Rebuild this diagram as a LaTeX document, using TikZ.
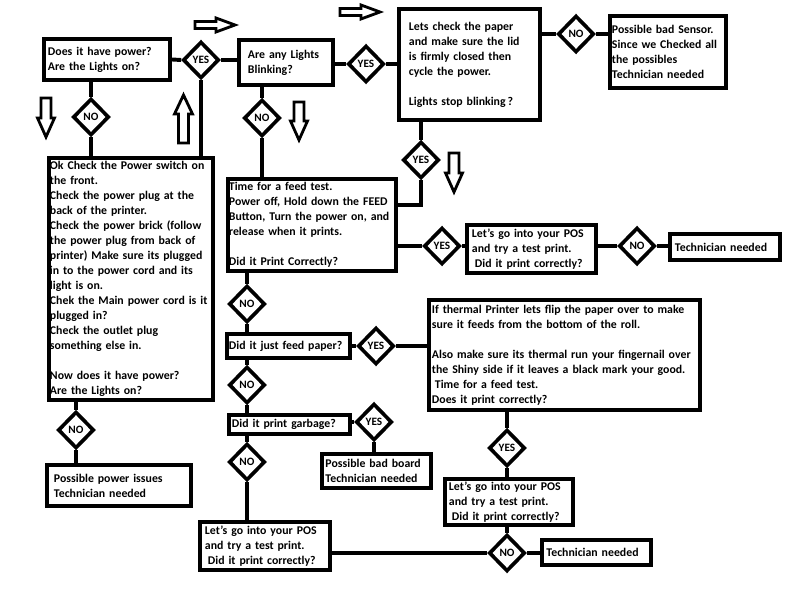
\documentclass[tikz,border=0pt]{standalone}
\usepackage{fontspec}
\setmainfont{Carlito}
\usetikzlibrary{shapes.geometric}

\begin{document}
\begin{tikzpicture}[x=0.025cm, y=-0.025cm,
  box/.style={draw, line width=2.8pt, rectangle, align=left, inner sep=0pt, font=\bfseries\fontsize{8.4}{10.67}\selectfont},
  choice/.style={draw, line width=2.6pt, diamond, minimum width=0.9cm, minimum height=0.92cm, inner sep=0pt, font=\bfseries\fontsize{8}{9}\selectfont},
  link/.style={line width=2.8pt},
  hollow/.style={line width=2pt, fill=white, line join=miter},
  pics/fatarrow/.style args={#1/#2/#3}{code={
    \draw[hollow] (0,0) -- (-19,-#2) -- (-19,-#3) -- (-#1,-#3) -- (-#1,#3) -- (-19,#3) -- (-19,#2) -- cycle;}}
]
\fill[white] (0,0) rectangle (800,603);
\useasboundingbox (0,0) rectangle (800,603);

% top row
\node[box, minimum width=3.15cm, minimum height=1.025cm, text width=2.95cm] (power) at (107,59.5) {Does it have power?\\Are the Lights on?};
\node[choice] (yesPower) at (201,60) {YES};
\node[box, minimum width=2.35cm, minimum height=1.125cm, text width=1.9cm] (blink) at (286,62.5) {Are any Lights\\Blinking?};
\node[choice] (yesBlink) at (366,64) {YES};
\node[box, line width=3.2pt, minimum width=3.525cm, minimum height=2.775cm, text width=3.025cm] (lid) at (469.5,64.5) {Lets check the paper\\and make sure the lid\\is firmly closed then\\cycle the power.\\[10.67pt]Lights stop blinking\,?};
\node[choice] (noLid) at (576,34) {NO};
\node[box, minimum width=2.9cm, minimum height=1.8cm, text width=2.8cm] (sensor) at (668,52) {Possible bad Sensor.\\Since we Checked all\\the possibles\\Technician needed};
\node[choice] (yesLid) at (421,160) {YES};

% left column
\node[choice] (noPower) at (91,117) {NO};
\node[box, minimum width=4.1cm, minimum height=6.05cm, text width=4.05cm] (checklist) at (131,279) {Ok Check the Power switch on\\the front.\\Check the power plug at the\\back of the printer.\\Check the power brick (follow\\the power plug from back of\\printer) Make sure its plugged\\in to the power cord and its\\light is on.\\Chek the Main power cord is it\\plugged in?\\Check the outlet plug\\something else in.\\[10.67pt]Now does it have power?\\Are the Lights on?};
\node[choice] (noCheck) at (76,430) {NO};
\node[box, minimum width=3.6cm, minimum height=1.025cm, text width=3.25cm] (powerissue) at (119,485.5) {Possible power issues\\Technician needed};

% feed test
\node[choice] (noBlink) at (262,118) {NO};
\node[box, line width=3.2pt, minimum width=4.2cm, minimum height=2.3cm, text width=4.15cm] (feedtest) at (312,225) {Time for a feed test.\\Power off, Hold down the FEED\\Button, Turn the power on, and\\release when it prints.\\[10.67pt]Did it Print Correctly?};
\node[choice] (yesFeed) at (442,246) {YES};
\node[box, line width=3.2pt, minimum width=3.225cm, minimum height=1.2cm, text width=2.975cm] (posA) at (531.5,249) {Let's go into your POS\\and try a test print.\\\hspace*{0.25em}Did it print correctly?};
\node[choice] (noPosA) at (637,246) {NO};
\node[box, minimum width=2.75cm, minimum height=0.65cm, text width=2.5cm] (techA) at (725,247) {Technician needed};

% middle column
\node[choice] (noFeed) at (247,304) {NO};
\node[box, minimum width=3.075cm, minimum height=0.6cm, text width=2.975cm] (justfeed) at (288.5,346) {Did it just feed paper?};
\node[choice] (yesJust) at (376,346) {YES};
\node[box, minimum width=6.775cm, minimum height=2.75cm, text width=6.625cm] (thermal) at (564.5,355) {If thermal Printer lets flip the paper over to make\\sure it feeds from the bottom of the roll.\\[10.67pt]Also make sure its thermal run your fingernail over\\the Shiny side if it leaves a black mark your good.\\\hspace*{0.25em}Time for a feed test.\\Does it print correctly?};
\node[choice] (noJust) at (247,385) {NO};
\node[box, minimum width=3.025cm, minimum height=0.475cm, text width=2.875cm] (garbage) at (289.5,424.5) {Did it print garbage?};
\node[choice] (yesGarb) at (374,422) {YES};
\node[box, minimum width=2.725cm, minimum height=0.85cm, text width=2.55cm] (badboard) at (376.5,471) {Possible bad board\\Technician needed};
\node[choice] (noGarb) at (247,462) {NO};
\node[box, line width=3.2pt, minimum width=3.25cm, minimum height=1.2cm, text width=3.0cm] (posC) at (265,546) {Let's go into your POS\\and try a test print.\\\hspace*{0.25em}Did it print correctly?};

% bottom right
\node[choice] (yesThermal) at (507,448) {YES};
\node[box, line width=3.2pt, minimum width=3.2cm, minimum height=1.15cm, text width=3.0cm] (posB) at (509,502) {Let's go into your POS\\and try a test print.\\\hspace*{0.25em}Did it print correctly?};
\node[choice] (noPos) at (507,553) {NO};
\node[box, minimum width=2.725cm, minimum height=0.625cm, text width=2.5cm] (techB) at (596.5,552.5) {Technician needed};

% connectors
\draw[link] (power.east) -- (yesPower.west);
\draw[link] (yesPower.east) -- (yesPower.east -| blink.west);
\draw[link] (blink.east |- yesBlink) -- (yesBlink.west);
\draw[link] (yesBlink.east) -- (yesBlink.east -| lid.west);
\draw[link] (lid.east |- noLid) -- (noLid.west);
\draw[link] (noLid.east) -- (noLid.east -| sensor.west);
\draw[link] (yesLid.north |- lid.south) -- (yesLid.north);
\draw[link] (yesLid.south) |- ([yshift=0.5cm]feedtest.east);
\draw[link] (yesFeed.west -| feedtest.east) -- (yesFeed.west);
\draw[link] (yesFeed.east) -- (yesFeed.east -| posA.west);
\draw[link] (posA.east |- noPosA) -- (noPosA.west);
\draw[link] (noPosA.east) -- (noPosA.east -| techA.west);
\draw[link] (noPower.north |- power.south) -- (noPower.north);
\draw[link] (noPower.south) -- (noPower.south |- checklist.north);
\draw[link] (yesPower.south) -- (yesPower.south |- checklist.north);
\draw[link] (noCheck.north |- checklist.south) -- (noCheck.north);
\draw[link] (noCheck.south) -- (noCheck.south |- powerissue.north);
\draw[link] (noBlink.north |- blink.south) -- (noBlink.north);
\draw[link] (noBlink.south) -- (noBlink.south |- feedtest.north);
\draw[link] (noFeed.north |- feedtest.south) -- (noFeed.north);
\draw[link] (noFeed.south) -- (noFeed.south |- justfeed.north);
\draw[link] (justfeed.east |- yesJust) -- (yesJust.west);
\draw[link] (yesJust.east) -- (yesJust.east -| thermal.west);
\draw[link] (noJust.north |- justfeed.south) -- (noJust.north);
\draw[link] (noJust.south) -- (noJust.south |- garbage.north);
\draw[link] (garbage.east |- yesGarb) -- (yesGarb.west);
\draw[link] (yesGarb.south) -- (yesGarb.south |- badboard.north);
\draw[link] (noGarb.north |- garbage.south) -- (noGarb.north);
\draw[link] (noGarb.south) -- (noGarb.south |- posC.north);
\draw[link] (yesThermal.north |- thermal.south) -- (yesThermal.north);
\draw[link] (yesThermal.south) -- (yesThermal.south |- posB.north);
\draw[link] (noPos.north |- posB.south) -- (noPos.north);
\draw[link] (posC.east |- noPos) -- (noPos.west);
\draw[link] (noPos.east) -- (noPos.east -| techB.west);

% hollow arrows
\pic at (235,25) {fatarrow=40/7/3.5};
\pic at (380,12) {fatarrow=40/7/3.5};
\pic[rotate=-90] at (46,137) {fatarrow=39/8.5/5};
\pic[rotate=90] at (183.5,95) {fatarrow=48/9/5};
\pic[rotate=-90] at (299,140) {fatarrow=38/8.5/5};
\pic[rotate=-90] at (454,192) {fatarrow=39/8.5/5};
\end{tikzpicture}
\end{document}
